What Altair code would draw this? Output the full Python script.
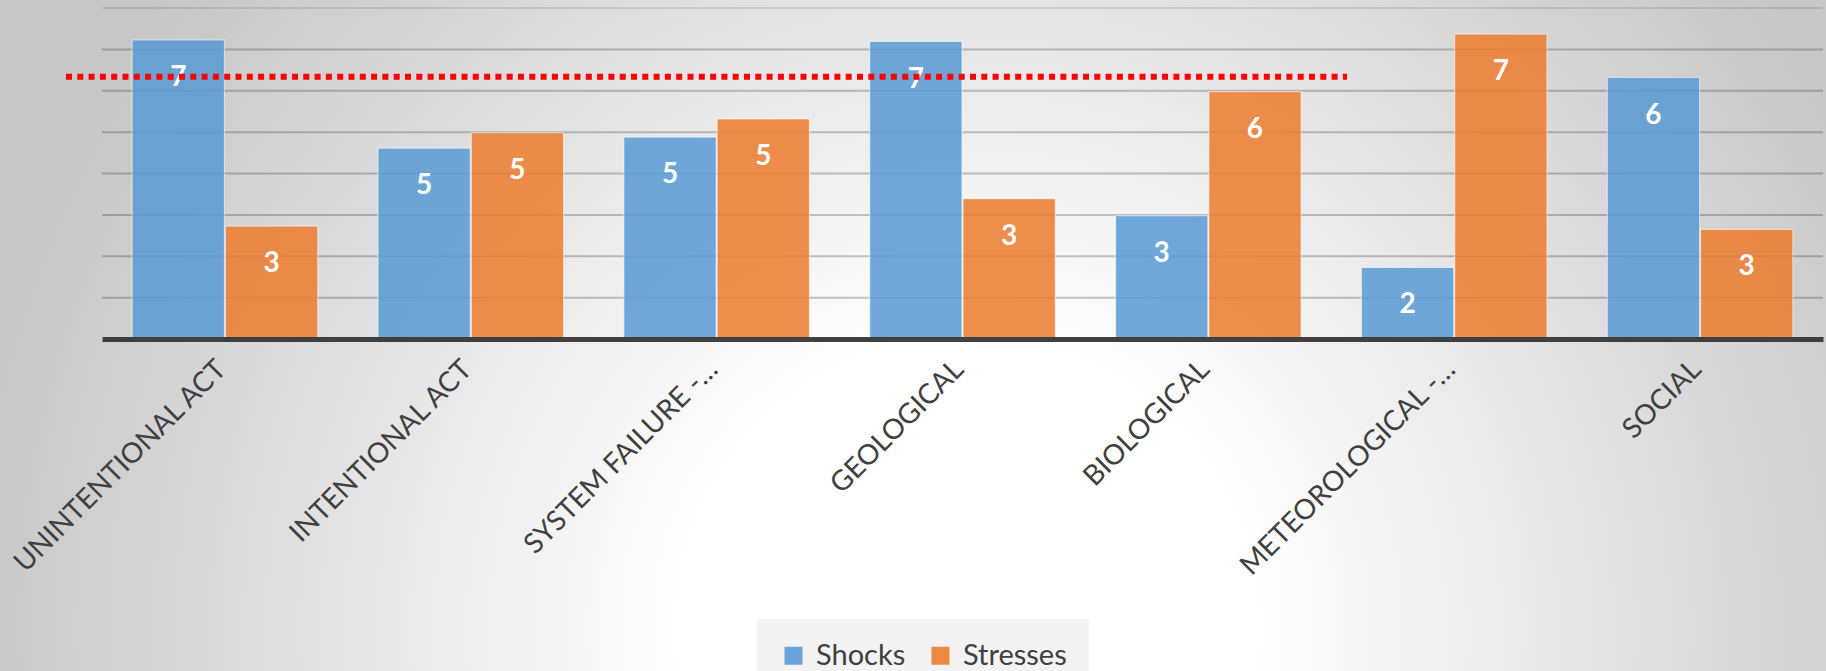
import altair as alt
import pandas as pd

categories = ["UNINTENTIONAL ACT", "INTENTIONAL ACT", "SYSTEM FAILURE -…", "GEOLOGICAL",
              "BIOLOGICAL", "METEOROLOGICAL -…", "SOCIAL"]
series = ["Shocks", "Stresses"]
shocks = [7.23, 4.61, 4.88, 7.19, 2.98, 1.73, 6.32]
stresses = [2.73, 4.99, 5.32, 3.39, 5.98, 7.37, 2.65]
colors = ["#5B9BD5", "#ED7D31"]
grid_values = [1, 2, 3, 4, 5, 6, 7]
grid_top = [8]
threshold = [6.34]

rows = []
for c, s, t in zip(categories, shocks, stresses):
    rows.append({"category": c, "series": "Shocks", "value": s})
    rows.append({"category": c, "series": "Stresses", "value": t})
df = pd.DataFrame(rows)

W, H = 1721, 331
FONT = "Lato"

yscale = alt.Scale(domain=[0, 8], nice=False, zero=True)
xscale = alt.Scale(paddingInner=0.245, paddingOuter=0.1225)
oscale = alt.Scale(paddingInner=0.01)

bg = alt.Chart(pd.DataFrame({"k": [0]})).mark_rect(
    fill=alt.Gradient(
        gradient="radial",
        x1=0.53, y1=0.66, r1=0,
        x2=0.53, y2=0.66, r2=0.56,
        stops=[
            alt.GradientStop(offset=0, color="#ffffff"),
            alt.GradientStop(offset=0.28, color="#ffffff"),
            alt.GradientStop(offset=0.45, color="#f1f1f1"),
            alt.GradientStop(offset=0.95, color="#c9c9c9"),
            alt.GradientStop(offset=1, color="#c7c7c7"),
        ],
    )
).encode(
    x=alt.value(-102), x2=alt.value(W + 3),
    y=alt.value(-8), y2=alt.value(H + 332),
)

grid = alt.Chart(pd.DataFrame({"g": grid_values})).mark_rule(
    color="#000000", strokeOpacity=0.22, strokeWidth=2
).encode(y=alt.Y("g:Q", scale=yscale, axis=None))

grid8 = alt.Chart(pd.DataFrame({"g": grid_top})).mark_rule(
    color="#000000", strokeOpacity=0.1, strokeWidth=2
).encode(y=alt.Y("g:Q", scale=yscale, axis=None))

xenc = alt.X(
    "category:N", sort=categories, scale=xscale, title=None,
    axis=alt.Axis(
        labelAngle=-45, labelAlign="right", labelBaseline="middle",
        labelFont=FONT, labelFontSize=28, labelColor="#404040",
        labelPadding=26, labelOffset=-3, ticks=False,
        domainColor="#404040", domainWidth=5,
        grid=False, zindex=1, labelLimit=0,
    ),
)

bars = alt.Chart(df).mark_bar(
    opacity=0.86, stroke="#ffffff", strokeWidth=1.2, strokeOpacity=0.6
).encode(
    x=xenc,
    xOffset=alt.XOffset("series:N", sort=series, scale=oscale),
    y=alt.Y("value:Q", scale=yscale, axis=None),
    color=alt.Color(
        "series:N", sort=series,
        scale=alt.Scale(domain=series, range=colors),
        legend=alt.Legend(
            title=None, orient="none", direction="horizontal",
            legendX=655, legendY=611,
            fillColor="#f3f3f3", padding=22,
            symbolType="square", symbolSize=324, symbolOpacity=0.9,
            symbolStrokeWidth=0,
            labelFont=FONT, labelFontSize=29, labelColor="#404040",
            labelOffset=8, columnPadding=20,
        ),
    ),
)

labels = alt.Chart(df).mark_text(
    color="white", font=FONT, fontSize=28, fontWeight="bold",
    baseline="middle", dy=38,
).encode(
    x=alt.X("category:N", sort=categories, scale=xscale),
    xOffset=alt.XOffset("series:N", sort=series, scale=oscale),
    y=alt.Y("value:Q", scale=yscale),
    text=alt.Text("value:Q", format=".0f"),
)

redline = alt.Chart(pd.DataFrame({"t": threshold})).mark_rule(
    color="#ff0000", strokeWidth=6, strokeDash=[6, 5.3], strokeCap="butt"
).encode(
    y=alt.Y("t:Q", scale=yscale),
    x=alt.value(-36), x2=alt.value(1245),
)

chart = alt.layer(bg, grid8, grid, bars, labels, redline).properties(
    width=W, height=H,
    autosize=alt.AutoSizeParams(type="none"),
    padding={"left": 102, "top": 8, "right": 3, "bottom": 332},
).configure_view(stroke=None).configure(background="#c8c8c8")

chart.save("out.html", embed_options={"renderer": "svg", "actions": False})
